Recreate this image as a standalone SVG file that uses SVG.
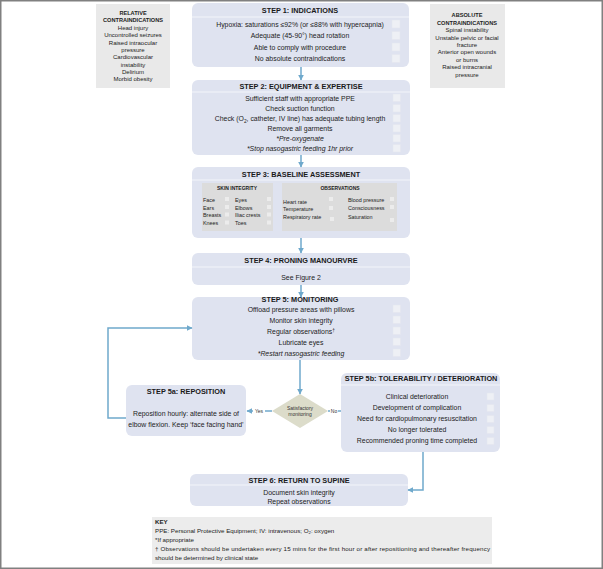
<svg xmlns="http://www.w3.org/2000/svg" width="603" height="569" viewBox="0 0 603 569">
<style>
.node{fill:#dfe3f0}
.sep{stroke:#f3f5fa;stroke-width:1}
.h{font-family:"Liberation Sans",Arial,sans-serif;font-weight:bold;font-size:7.3px;fill:#1a1a1a;text-anchor:middle}
.t{font-family:"Liberation Sans",Arial,sans-serif;font-size:6.9px;fill:#222;text-anchor:middle}
.i{font-style:italic}
.cb{fill:#eef0f5;stroke:#e3e6ee;stroke-width:0.5}
.ci{font-family:"Liberation Sans",Arial,sans-serif;font-size:6px;fill:#222;text-anchor:middle}
.cib{font-weight:bold;font-size:5.6px}
.gray{fill:#e9e9e9}
.inner{fill:#dcdcdc}
.s{font-family:"Liberation Sans",Arial,sans-serif;font-size:5.4px;fill:#222}
.sb{font-weight:bold;text-anchor:middle;font-size:5px}
.scb{fill:#ececec}
.conn{stroke:#6fa9cc;stroke-width:1.5;fill:none}
.lbl{font-family:"Liberation Sans",Arial,sans-serif;font-size:5px;fill:#333;text-anchor:middle}
.key{font-family:"Liberation Sans",Arial,sans-serif;font-size:6.2px;fill:#222}
</style>
<defs>
<marker id="ah" viewBox="0 0 10 10" refX="9" refY="5" markerWidth="4" markerHeight="4" orient="auto" markerUnits="strokeWidth"><path d="M0,0 L10,5 L0,10 z" fill="#6fa9cc"/></marker>
</defs>
<rect x="0.75" y="0.75" width="601.5" height="567.5" fill="#fff" stroke="#808080" stroke-width="1.5"/>

<g id="relative">
<rect class="gray" x="96" y="4" width="74" height="84"/>
<text class="ci cib" x="133" y="15">RELATIVE</text>
<text class="ci cib" x="133" y="22">CONTRAINDICATIONS</text>
<text class="ci" x="133" y="29.5">Head injury</text>
<text class="ci" x="133" y="37">Uncontrolled seizures</text>
<text class="ci" x="133" y="44.5">Raised intraocular</text>
<text class="ci" x="133" y="51.5">pressure</text>
<text class="ci" x="133" y="59">Cardiovascular</text>
<text class="ci" x="133" y="66.5">instability</text>
<text class="ci" x="133" y="73.5">Delirium</text>
<text class="ci" x="133" y="81">Morbid obesity</text>
</g>

<g id="absolute">
<rect class="gray" x="430" y="4" width="75" height="84"/>
<text class="ci cib" x="467" y="17">ABSOLUTE</text>
<text class="ci cib" x="467" y="24.5">CONTRAINDICATIONS</text>
<text class="ci" x="467" y="32">Spinal instability</text>
<text class="ci" x="467" y="39.5">Unstable pelvic or facial</text>
<text class="ci" x="467" y="46.5">fracture</text>
<text class="ci" x="467" y="54">Anterior open wounds</text>
<text class="ci" x="467" y="61.5">or burns</text>
<text class="ci" x="467" y="69">Raised intracranial</text>
<text class="ci" x="467" y="77">pressure</text>
</g>

<g id="step1">
<rect class="node" x="192" y="3" width="217" height="64" rx="6"/>
<line class="sep" x1="192" y1="17" x2="409" y2="17"/>
<text class="h" x="300" y="13">STEP 1: INDICATIONS</text>
<text class="t" x="300" y="26.5">Hypoxia: saturations ≤92% (or ≤88% with hypercapnia)</text>
<text class="t" x="300" y="38">Adequate (45-90°) head rotation</text>
<text class="t" x="300" y="49.5">Able to comply with procedure</text>
<text class="t" x="300" y="61">No absolute contraindications</text>
<rect class="cb" x="392" y="20" width="8" height="8"/>
<rect class="cb" x="392" y="31.5" width="8" height="8"/>
<rect class="cb" x="392" y="43" width="8" height="8"/>
<rect class="cb" x="392" y="54.5" width="8" height="8"/>
</g>

<g id="step2">
<rect class="node" x="192" y="80" width="218" height="75" rx="6"/>
<line class="sep" x1="192" y1="92" x2="410" y2="92"/>
<text class="h" x="301" y="89">STEP 2: EQUIPMENT &amp; EXPERTISE</text>
<text class="t" x="300" y="100.5">Sufficient staff with appropriate PPE</text>
<text class="t" x="300" y="111">Check suction function</text>
<text class="t" x="300" y="121">Check  (O<tspan font-size="4.8" dy="1.5">2</tspan><tspan dy="-1.5">, catheter, IV line) has adequate tubing length</tspan></text>
<text class="t" x="300" y="131">Remove all garments</text>
<text class="t i" x="300" y="141">*Pre-oxygenate</text>
<text class="t i" x="300" y="151">*Stop nasogastric feeding 1hr prior</text>
<rect class="cb" x="393" y="94" width="7.5" height="7.5"/>
<rect class="cb" x="393" y="104.5" width="7.5" height="7.5"/>
<rect class="cb" x="393" y="114.5" width="7.5" height="7.5"/>
<rect class="cb" x="393" y="124.5" width="7.5" height="7.5"/>
<rect class="cb" x="393" y="134.5" width="7.5" height="7.5"/>
<rect class="cb" x="393" y="144.5" width="7.5" height="7.5"/>
</g>

<g id="step3">
<rect class="node" x="192" y="167" width="218" height="71" rx="6"/>
<line class="sep" x1="192" y1="180" x2="410" y2="180"/>
<text class="h" x="301" y="176.5">STEP 3: BASELINE ASSESSMENT</text>
<rect class="inner" x="202" y="183" width="71" height="48"/>
<text class="s sb" x="237" y="190">SKIN INTEGRITY</text>
<text class="s" x="203" y="201.5">Face</text>
<text class="s" x="203" y="209.5">Ears</text>
<text class="s" x="203" y="217">Breasts</text>
<text class="s" x="203" y="225">Knees</text>
<text class="s" x="235" y="201.5">Eyes</text>
<text class="s" x="235" y="209.5">Elbows</text>
<text class="s" x="235" y="217">Iliac crests</text>
<text class="s" x="235" y="225">Toes</text>
<rect class="scb" x="225" y="197" width="4" height="4"/>
<rect class="scb" x="225" y="205" width="4" height="4"/>
<rect class="scb" x="225" y="212.5" width="4" height="4"/>
<rect class="scb" x="225" y="220.5" width="4" height="4"/>
<rect class="scb" x="267" y="197" width="4" height="4"/>
<rect class="scb" x="267" y="205" width="4" height="4"/>
<rect class="scb" x="267" y="212.5" width="4" height="4"/>
<rect class="scb" x="267" y="220.5" width="4" height="4"/>
<rect class="inner" x="282" y="183" width="115" height="48"/>
<text class="s sb" x="340" y="190">OBSERVATIONS</text>
<text class="s" x="283" y="203.5">Heart rate</text>
<text class="s" x="283" y="211">Temperature</text>
<text class="s" x="283" y="219">Respiratory rate</text>
<text class="s" x="348" y="202">Blood pressure</text>
<text class="s" x="348" y="210">Consciousness</text>
<text class="s" x="348" y="218.5">Saturation</text>
<rect class="scb" x="329" y="197" width="4" height="4"/>
<rect class="scb" x="329" y="206" width="4" height="4"/>
<rect class="scb" x="330" y="217" width="4" height="4"/>
<rect class="scb" x="390" y="197" width="4" height="4"/>
<rect class="scb" x="390" y="205" width="4" height="4"/>
<rect class="scb" x="390" y="218" width="4" height="4"/>
</g>

<g id="step4">
<rect class="node" x="192" y="253" width="218" height="32" rx="6"/>
<line class="sep" x1="192" y1="267" x2="410" y2="267"/>
<text class="h" x="301" y="262.5">STEP 4: PRONING MANOURVRE</text>
<text class="t" x="301" y="280">See Figure 2</text>
</g>

<g id="step5">
<rect class="node" x="192" y="297" width="218" height="63" rx="6"/>
<text class="h" x="300" y="302">STEP 5: MONITORING</text>
<text class="t" x="301" y="311.5">Offload pressure areas with pillows</text>
<text class="t" x="301" y="322.5">Monitor skin integrity</text>
<text class="t" x="301" y="333.5">Regular observations<tspan font-size="4.8" dy="-2">†</tspan></text>
<text class="t" x="301" y="344.5">Lubricate eyes</text>
<text class="t i" x="301" y="356">*Restart nasogastric feeding</text>
<rect class="cb" x="393" y="305" width="7.5" height="7.5"/>
<rect class="cb" x="393" y="316" width="7.5" height="7.5"/>
<rect class="cb" x="393" y="327" width="7.5" height="7.5"/>
<rect class="cb" x="393" y="338" width="7.5" height="7.5"/>
<rect class="cb" x="393" y="349" width="7.5" height="7.5"/>
</g>

<g id="step5a">
<rect class="node" x="126" y="385" width="120" height="51" rx="6"/>
<text class="h" x="186" y="394">STEP 5a: REPOSITION</text>
<text class="t" x="186" y="416">Reposition hourly: alternate side of</text>
<text class="t" x="186" y="426.5">elbow flexion. Keep ‘face facing hand’</text>
</g>

<g id="decision">
<polygon points="300,394 328,411 300,428 272,411" fill="#dcdcca"/>
<text class="lbl" x="300" y="409.5">Satisfactory</text>
<text class="lbl" x="300" y="416">monitoring</text>
</g>

<g id="step5b">
<rect class="node" x="341" y="373" width="159" height="79" rx="6"/>
<line class="sep" x1="341" y1="385" x2="500" y2="385"/>
<text class="h" x="421" y="381">STEP 5b: TOLERABILITY / DETERIORATION</text>
<text class="t" x="417" y="398.5">Clinical deterioration</text>
<text class="t" x="417" y="410">Development of complication</text>
<text class="t" x="417" y="421">Need for cardiopulmonary resuscitation</text>
<text class="t" x="417" y="432">No longer tolerated</text>
<text class="t" x="417" y="443">Recommended proning time completed</text>
<rect class="cb" x="487" y="393" width="7" height="7"/>
<rect class="cb" x="487" y="404.5" width="7" height="7"/>
<rect class="cb" x="487" y="415.5" width="7" height="7"/>
<rect class="cb" x="487" y="426.5" width="7" height="7"/>
<rect class="cb" x="487" y="437.5" width="7" height="7"/>
</g>

<g id="step6">
<rect class="node" x="190" y="474" width="218" height="32" rx="6"/>
<line class="sep" x1="190" y1="485" x2="408" y2="485"/>
<text class="h" x="299" y="482.5">STEP 6: RETURN TO SUPINE</text>
<text class="t" x="299" y="494.5">Document skin integrity</text>
<text class="t" x="299" y="503.5">Repeat observations</text>
</g>

<g id="connectors">
<line class="conn" x1="301" y1="67" x2="301" y2="80" marker-end="url(#ah)"/>
<line class="conn" x1="301" y1="155" x2="301" y2="167" marker-end="url(#ah)"/>
<line class="conn" x1="301" y1="238" x2="301" y2="253" marker-end="url(#ah)"/>
<line class="conn" x1="301" y1="285" x2="301" y2="297" marker-end="url(#ah)"/>
<line class="conn" x1="300" y1="360" x2="300" y2="394" marker-end="url(#ah)"/>
<path class="conn" d="M126,418 H108 V328 H192" marker-end="url(#ah)"/>
<line class="conn" x1="272" y1="411" x2="247" y2="411" marker-end="url(#ah)"/>
<rect x="253" y="407" width="12" height="7" fill="#fff"/>
<text class="lbl" x="259" y="413">Yes</text>
<line class="conn" x1="328" y1="411" x2="341" y2="411"/>
<rect x="330" y="407" width="8" height="7" fill="#fff"/>
<text class="lbl" x="334" y="413">No</text>
<path class="conn" d="M423,452 V490 H408" marker-end="url(#ah)"/>
</g>

<g id="key">
<rect x="152" y="517" width="340" height="47" fill="#ececec"/>
<text class="key" x="155" y="524" font-weight="bold">KEY</text>
<text class="key" x="155" y="533">PPE: Personal Protective Equipment; IV: intravenous; O<tspan font-size="4.3" dy="1.2">2</tspan><tspan dy="-1.2">: oxygen</tspan></text>
<text class="key" x="155" y="542">*If appropriate</text>
<text class="key" x="155" y="551" textLength="335" lengthAdjust="spacing">† Observations should be undertaken every 15 mins for the first hour or after repositioning and thereafter frequency</text>
<text class="key" x="155" y="560">should be determined by clinical state</text>
</g>
</svg>
